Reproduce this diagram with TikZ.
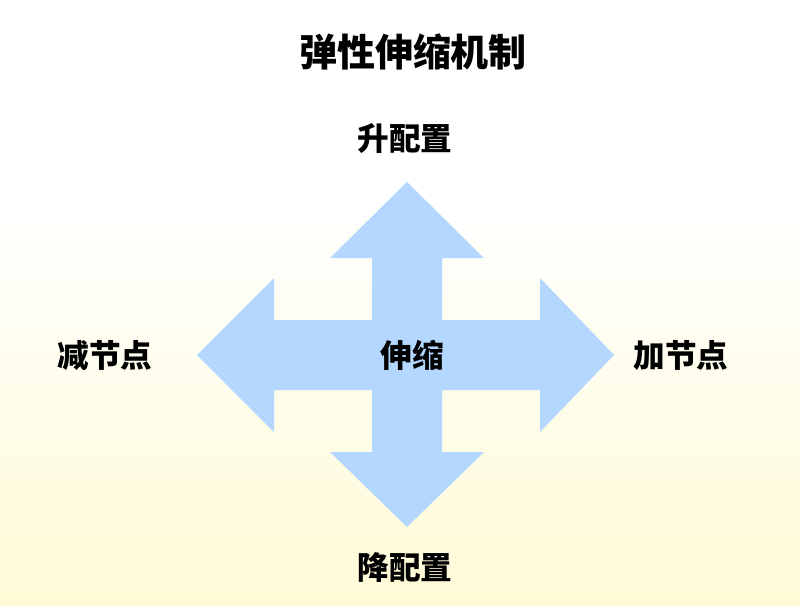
\documentclass[tikz,border=0pt]{standalone}
\usepackage{fontspec}
\newfontfamily\cjk{Noto Sans CJK SC}
\definecolor{crossblue}{HTML}{B3D7FF}
\definecolor{bgyellow}{HTML}{FFFBD6}
\tikzset{
  label text/.style={font=\cjk\bfseries\fontsize{22.5}{26}\selectfont, text=black},
  title text/.style={font=\cjk\bfseries\fontsize{27}{31}\selectfont, text=black}
}
\begin{document}
\begin{tikzpicture}[x=0.025cm,y=-0.025cm]
  % background
  \fill[white] (0,0) rectangle (800,200);
  \shade[top color=white, bottom color=bgyellow] (0,200) rectangle (800,605);
  \useasboundingbox (0,0) rectangle (800,605);

  % cross arrow
  \fill[crossblue] (407,182) -- (484,258) -- (442,258) -- (442,320)
    -- (540,320) -- (540,278) -- (614,355) -- (540,432) -- (540,390)
    -- (442,390) -- (442,452) -- (484,452) -- (407,527) -- (330,452)
    -- (372,452) -- (372,390) -- (274,390) -- (274,432) -- (197,355)
    -- (274,278) -- (274,320) -- (372,320) -- (372,258) -- (330,258) -- cycle;

  % Labels
  \node[title text] (title) at (413,52) {弹性伸缩机制};
  \node[label text] (up) at (405,138) {升配置};
  \node[label text] (down) at (405,567) {降配置};
  \node[label text] (left) at (105,355) {减节点};
  \node[label text] (right) at (681,355) {加节点};
  \node[label text] (center) at (412,355) {伸缩};
\end{tikzpicture}
\end{document}
